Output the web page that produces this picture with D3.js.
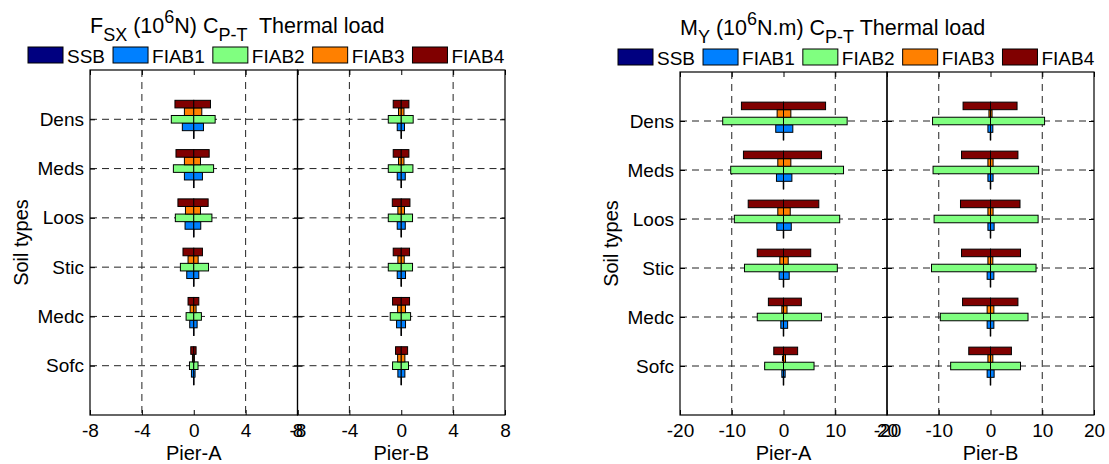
<!DOCTYPE html>
<meta charset="utf-8">
<style>
    body { margin: 0; background: #fff; }
    text { font-family: "Liberation Sans", Arial, sans-serif; fill: #000; }
    .ttl { white-space: pre; }
</style>
<svg width="1109" height="464"></svg>
<script src="https://d3js.org/d3.v7.min.js"></script>
<script>

    // categories, top to bottom
    var soils = ["Dens", "Meds", "Loos", "Stic", "Medc", "Sofc"];
    var series = ["SSB", "FIAB1", "FIAB2", "FIAB3", "FIAB4"];
    var colors = ["#000080", "#0080ff", "#80ff80", "#ff8000", "#800000"];
    var piers = ["Pier-A", "Pier-B"];

    var fsxTicks = [-8, -4, 0, 4, 8];
    var myTicks = [-20, -10, 0, 10, 20];

    // F_SX (10^6 N), rows = SSB, FIAB1..FIAB4, columns = soils
    var fsxA_min = [
        [-0.02, -0.02, -0.02, -0.02, -0.02, -0.02],
        [-0.88, -0.72, -0.67, -0.54, -0.31, -0.18],
        [-1.73, -1.57, -1.42, -1.03, -0.59, -0.33],
        [-0.72, -0.72, -0.64, -0.44, -0.28, -0.10],
        [-1.45, -1.37, -1.22, -0.83, -0.44, -0.23]
    ];
    var fsxA_max = [
        [0.02, 0.02, 0.02, 0.02, 0.02, 0.02],
        [0.75, 0.67, 0.54, 0.39, 0.26, 0.10],
        [1.65, 1.53, 1.40, 1.14, 0.59, 0.33],
        [0.62, 0.52, 0.52, 0.34, 0.18, 0.05],
        [1.29, 1.19, 1.11, 0.67, 0.39, 0.18]
    ];
    var fsxB_min = [
        [-0.02, -0.02, -0.02, -0.02, -0.02, -0.02],
        [-0.31, -0.31, -0.31, -0.31, -0.36, -0.26],
        [-1.00, -1.00, -1.00, -1.00, -0.85, -0.67],
        [-0.21, -0.21, -0.26, -0.26, -0.28, -0.28],
        [-0.62, -0.62, -0.69, -0.62, -0.67, -0.44]
    ];
    var fsxB_max = [
        [0.02, 0.02, 0.02, 0.02, 0.02, 0.02],
        [0.25, 0.31, 0.31, 0.33, 0.33, 0.28],
        [0.92, 0.90, 0.87, 0.87, 0.72, 0.56],
        [0.21, 0.21, 0.25, 0.23, 0.33, 0.28],
        [0.59, 0.59, 0.67, 0.64, 0.64, 0.49]
    ];

    // M_Y (10^6 N.m)
    var myA_min = [
        [-0.05, -0.05, -0.05, -0.05, -0.05, -0.05],
        [-1.50, -1.36, -1.30, -0.84, -0.52, -0.32],
        [-11.75, -10.2, -9.5, -7.54, -5.07, -3.64],
        [-1.23, -1.10, -1.10, -0.71, -0.32, -0.20],
        [-8.13, -7.74, -6.82, -5.07, -2.92, -1.88]
    ];
    var myA_max = [
        [0.05, 0.05, 0.05, 0.05, 0.05, 0.05],
        [1.80, 1.62, 1.50, 1.10, 0.80, 0.32],
        [12.3, 11.6, 10.86, 10.4, 7.35, 5.9],
        [1.42, 1.42, 1.30, 0.91, 0.68, 0.39],
        [8.13, 7.35, 6.82, 5.26, 3.45, 2.73]
    ];
    var myB_min = [
        [-0.05, -0.05, -0.05, -0.05, -0.05, -0.05],
        [-0.50, -0.50, -0.50, -0.65, -0.65, -0.65],
        [-11.2, -11.1, -10.9, -11.4, -9.7, -7.7],
        [-0.30, -0.50, -0.50, -0.50, -0.65, -0.50],
        [-5.30, -5.60, -5.80, -5.60, -5.40, -4.20]
    ];
    var myB_max = [
        [0.05, 0.05, 0.05, 0.05, 0.05, 0.05],
        [0.45, 0.50, 0.70, 0.65, 0.65, 0.70],
        [10.45, 9.3, 9.2, 8.8, 7.25, 5.8],
        [0.30, 0.50, 0.50, 0.45, 0.65, 0.45],
        [5.13, 5.30, 5.70, 5.80, 5.30, 4.04]
    ];


    var svg = d3.select("svg");

    svg.append("rect").attr("width", 1109).attr("height", 464).attr("fill", "#fff");

    var slot = 0.154; // bar thickness / spacing in category units

    function drawPanel(cfg) {

        var g = svg.append("g");

        var y = d3.scaleLinear().domain([0, 7]).range([cfg.bottom, cfg.top]);

        cfg.mins.forEach(function (mins, p) {

            var maxs = cfg.maxs[p];
            var x0 = cfg.left + p * cfg.w;
            var x = d3.scaleLinear().domain([cfg.ticks[0], cfg.ticks[cfg.ticks.length - 1]]).range([x0, x0 + cfg.w]);

            var ax = g.append("g");

            // grid
            ax.selectAll(".vg")
                .data(cfg.ticks.filter(function (t, i) {
                    return t !== 0 && i > 0 && i < cfg.ticks.length - 1;
                }))
                .enter()
                .append("line")
                .attr("x1", function (d) { return x(d); })
                .attr("x2", function (d) { return x(d); })
                .attr("y1", cfg.top)
                .attr("y2", cfg.bottom)
                .attr("stroke", "#222")
                .attr("stroke-dasharray", "7,5");

            ax.selectAll(".hg")
                .data(soils)
                .enter()
                .append("line")
                .attr("x1", x0)
                .attr("x2", x0 + cfg.w)
                .attr("y1", function (d, i) { return y(6 - i); })
                .attr("y2", function (d, i) { return y(6 - i); })
                .attr("stroke", "#222")
                .attr("stroke-dasharray", "7,5");

            // bars: each series is a range bar from min to max around 0
            var bars = [];
            series.forEach(function (s, si) {
                soils.forEach(function (c, ci) {
                    var yc = (6 - ci) + (si - 2) * slot;
                    bars.push({s: si, yc: yc, a: mins[si][ci], b: 0});
                    bars.push({s: si, yc: yc, a: 0, b: maxs[si][ci]});
                });
            });

            ax.selectAll(".bar")
                .data(bars)
                .enter()
                .append("rect")
                .attr("x", function (d) { return x(d.a); })
                .attr("width", function (d) { return x(d.b) - x(d.a); })
                .attr("y", function (d) { return y(d.yc + slot / 2); })
                .attr("height", function (d) { return y(d.yc - slot / 2) - y(d.yc + slot / 2); })
                .attr("fill", function (d) { return colors[d.s]; })
                .attr("stroke", "#000")
                .attr("stroke-width", 1);

            // ticks
            var fmt = function (d) { return String(d); };

            ax.append("g")
                .attr("transform", "translate(0," + cfg.bottom + ")")
                .call(d3.axisBottom(x).tickValues(cfg.ticks).tickFormat(fmt).tickSizeInner(-5).tickSizeOuter(0).tickPadding(9))
                .call(function (a) {
                    a.select(".domain").remove();
                    a.selectAll("text").attr("font-size", 19).attr("font-family", null);
                    a.selectAll("line").attr("stroke", "#000");
                });

            ax.append("g")
                .attr("transform", "translate(0," + cfg.top + ")")
                .call(d3.axisTop(x).tickValues(cfg.ticks).tickFormat("").tickSizeInner(-5).tickSizeOuter(0))
                .call(function (a) {
                    a.select(".domain").remove();
                    a.selectAll("line").attr("stroke", "#000");
                });

            ax.append("g")
                .attr("transform", "translate(" + x0 + ",0)")
                .call(d3.axisLeft(y).tickValues([6, 5, 4, 3, 2, 1])
                    .tickFormat(function (d) { return p === 0 ? soils[6 - d] : ""; })
                    .tickSizeInner(-5).tickSizeOuter(0).tickPadding(6))
                .call(function (a) {
                    a.select(".domain").remove();
                    a.selectAll("text").attr("font-size", 19).attr("font-family", null);
                    a.selectAll("line").attr("stroke", "#000");
                });

            ax.append("g")
                .attr("transform", "translate(" + (x0 + cfg.w) + ",0)")
                .call(d3.axisRight(y).tickValues([6, 5, 4, 3, 2, 1]).tickFormat("").tickSizeInner(-5).tickSizeOuter(0))
                .call(function (a) {
                    a.select(".domain").remove();
                    a.selectAll("line").attr("stroke", "#000");
                });

            // box
            ax.append("rect")
                .attr("x", x0)
                .attr("y", cfg.top)
                .attr("width", cfg.w)
                .attr("height", cfg.bottom - cfg.top)
                .attr("fill", "none")
                .attr("stroke", "#000")
                .attr("stroke-width", 1.2);

            ax.append("text")
                .attr("x", x0 + cfg.w / 2)
                .attr("y", cfg.bottom + 45)
                .attr("text-anchor", "middle")
                .attr("font-size", 20)
                .text(piers[p]);
        });

        g.append("text")
            .attr("transform", "translate(" + (cfg.left - 62) + "," + ((cfg.top + cfg.bottom) / 2) + ") rotate(-90)")
            .attr("text-anchor", "middle")
            .attr("font-size", 20)
            .text("Soil types");

        // title with sub / superscripts: [text, dy, small]
        var t = g.append("text")
            .attr("class", "ttl")
            .attr("x", cfg.left)
            .attr("y", cfg.top - 37)
            .attr("font-size", 21.5);
        cfg.title.forEach(function (part) {
            t.append("tspan")
                .attr("dy", part[1])
                .attr("font-size", part[2] ? 18 : 21.5)
                .text(part[0]);
        });

        // legend
        var lx = cfg.legendX;
        var ly = cfg.top - 23;
        series.forEach(function (s, i) {
            g.append("rect")
                .attr("x", lx)
                .attr("y", ly)
                .attr("width", 35)
                .attr("height", 16)
                .attr("fill", colors[i])
                .attr("stroke", "#000");
            var tx = g.append("text")
                .attr("x", lx + 39)
                .attr("y", ly + 16)
                .attr("font-size", 19)
                .text(s);
            lx = lx + 39 + tx.node().getComputedTextLength() + 8;
        });
    }

    drawPanel({
        left: 90, top: 70, bottom: 415, w: 207.5,
        ticks: fsxTicks,
        mins: [fsxA_min, fsxB_min],
        maxs: [fsxA_max, fsxB_max],
        legendX: 28,
        title: [["F", 0, false], ["SX", 8, true], [" (10", -8, false], ["6", -10, true],
                ["N) C", 10, false], ["P-T", 8, true], ["  Thermal load", -8, false]]
    });

    drawPanel({
        left: 680, top: 72, bottom: 415, w: 207,
        ticks: myTicks,
        mins: [myA_min, myB_min],
        maxs: [myA_max, myB_max],
        legendX: 618,
        title: [["M", 0, false], ["Y", 8, true], [" (10", -8, false], ["6", -10, true],
                ["N.m) C", 10, false], ["P-T", 8, true], [" Thermal load", -8, false]]
    });

</script>
